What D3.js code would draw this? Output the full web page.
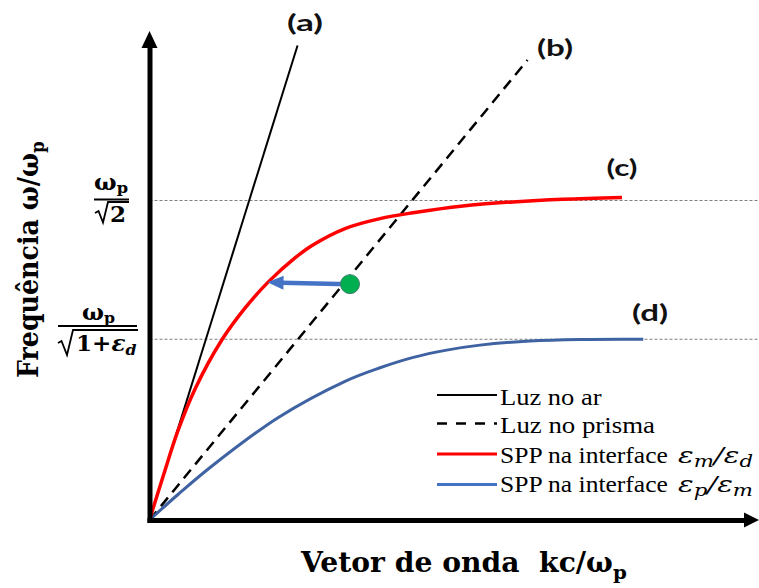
<!DOCTYPE html>
<html><head><meta charset="utf-8">
<script src="https://cdn.jsdelivr.net/npm/d3@7"></script>
<style>body{margin:0;background:#fff}svg{display:block}text{white-space:pre}</style>
</head><body><svg id="c" width="759" height="588"></svg>
<script>
// ---------- data (x = kc/ωp, y = ω/ωp) ----------
const xMax = 4.32, yMax = 1.08;
const asymptotes = [0.7071, 0.4];            // ωp/√2 , ωp/√(1+εd)
const lightAir   = [[0,0],[1.05,1.05]];       // (a)
const lightPrism = [[0,0],[2.681,1.018]];     // (b)
const sppMetalDielectric = [[0,0],[0.1,0.1],[0.2,0.196],[0.323,0.29],[0.516,0.4],[0.68,0.47],[0.843,0.527],[1.032,0.58],[1.15,0.607],[1.387,0.645],[1.635,0.667],[1.869,0.68],[2.223,0.695],[2.578,0.704],[2.933,0.71],[3.351,0.714]]; // (c)
const sppPrismMetal = [[0,0],[0.204,0.057],[0.441,0.119],[0.914,0.227],[1.387,0.307],[1.635,0.337],[1.871,0.36],[2.108,0.376],[2.344,0.387],[2.699,0.396],[3.053,0.3995],[3.502,0.4]]; // (d)
const couplingPoint = [1.422, 0.522];
const couplingTarget = [0.837, 0.526];
const curveLabels = ["(a)","(b)","(c)","(d)"];
const legendLabels = ["Luz no ar","Luz no prisma","SPP na interface","SPP na interface"];

// ---------- setup ----------
const svg = d3.select('#c');
const x = d3.scaleLinear().domain([0,xMax]).range([149.5,758.6]);
const y = d3.scaleLinear().domain([0,yMax]).range([520,32]);

function richText(parent, parts, base){
  const g = parent.append('g');
  const t = g.append('text').attr('font-family',base.family).attr('font-size',base.size)
    .attr('font-weight',base.weight||'normal').attr('fill',base.fill||'#000');
  if(base.style) t.attr('font-style',base.style);
  let cur = 0;
  parts.forEach(p=>{
    const ts = t.append('tspan').text(p.t);
    const sh = p.shift||0;
    ts.attr('dy', sh-cur); cur = sh;
    if(p.size) ts.attr('font-size',p.size);
    if(p.style) ts.attr('font-style',p.style);
    if(p.weight) ts.attr('font-weight',p.weight);
    if(p.family) ts.attr('font-family',p.family);
  });
  return g;
}
function fitH(g,x0,x1,yb){
  const bb = g.node().getBBox(); const s = (x1-x0)/bb.width;
  g.attr('transform',`translate(${x0-bb.x*s},${yb}) scale(${s},1)`);
}
function fitCenter(g,cx,w,yb){ fitH(g,cx-w/2,cx+w/2,yb); }
function fitV(g,xb,yStart,yEnd){
  const bb = g.node().getBBox(); const s = (yStart-yEnd)/bb.width;
  g.attr('transform',`translate(${xb},${yStart}) rotate(-90) scale(${s},1) translate(${-bb.x},0)`);
}

// ---------- asymptote guide lines ----------
svg.append('g').selectAll('line').data(asymptotes).join('line')
  .attr('x1',x(0)).attr('x2',759).attr('y1',d=>y(d)).attr('y2',d=>y(d))
  .attr('stroke','#7f7f7f').attr('stroke-width',1).attr('stroke-dasharray','3,2');

// ---------- curves ----------
const straight = d3.line().x(d=>x(d[0])).y(d=>y(d[1]));
const smooth = d3.line().x(d=>x(d[0])).y(d=>y(d[1])).curve(d3.curveCatmullRom.alpha(0.5));
svg.append('path').attr('d',straight(lightPrism)).attr('fill','none').attr('stroke','#000').attr('stroke-width',2.5).attr('stroke-dasharray','11,7');
svg.append('path').attr('d',smooth(sppPrismMetal)).attr('fill','none').attr('stroke','#3F62A3').attr('stroke-width',3);
svg.append('path').attr('d',straight(lightAir)).attr('fill','none').attr('stroke','#000').attr('stroke-width',2);
svg.append('path').attr('d',smooth(sppMetalDielectric)).attr('fill','none').attr('stroke','#FF0000').attr('stroke-width',3.5);

// ---------- coupling arrow + point ----------
{
  const x0=x(couplingPoint[0]), y0=y(couplingPoint[1]), x1=x(couplingTarget[0]), y1=y(couplingTarget[1]);
  const L=Math.hypot(x1-x0,y1-y0), ux=(x1-x0)/L, uy=(y1-y0)/L, hl=16, hw=7;
  const bx=x1-ux*hl, by=y1-uy*hl;
  svg.append('line').attr('x1',x0).attr('y1',y0).attr('x2',bx+ux*2).attr('y2',by+uy*2).attr('stroke','#4472C4').attr('stroke-width',4.5);
  svg.append('polygon').attr('points',`${x1},${y1} ${bx-uy*hw},${by+ux*hw} ${bx+uy*hw},${by-ux*hw}`).attr('fill','#4472C4');
  svg.append('circle').attr('cx',x0).attr('cy',y0).attr('r',9.5).attr('fill','#00B050').attr('stroke','#3E7F6A').attr('stroke-width',1);
}

// ---------- axes ----------
const xAxisG = svg.append('g').attr('transform',`translate(0,${y(0)})`)
  .call(d3.axisBottom(x.copy().range([147,750])).tickValues([]).tickSizeOuter(0));
xAxisG.select('.domain').attr('stroke','#000').attr('stroke-width',5);
const yAxisG = svg.append('g').attr('transform',`translate(${x(0)},0)`)
  .call(d3.axisLeft(y.copy().range([522.5,44])).tickValues([]).tickSizeOuter(0));
yAxisG.select('.domain').attr('stroke','#000').attr('stroke-width',5);
svg.append('polygon').attr('points',`${x(0)},31 ${x(0)-8},48 ${x(0)+8},48`).attr('fill','#000');
svg.append('polygon').attr('points',`759,${y(0)} 744,${y(0)-7.5} 744,${y(0)+7.5}`).attr('fill','#000');

// ---------- curve labels ----------
const lblPos = [[305,36,31],[555,36,56],[622,31,176],[650,36,321]];
curveLabels.forEach((t,i)=>{
  const g = richText(svg,[{t}],{family:'Lato',size:23,weight:'bold',fill:'#111'});
  fitCenter(g,lblPos[i][0],lblPos[i][1],lblPos[i][2]);
});

// ---------- axis titles ----------
const serifB = {family:'DejaVu Serif',size:27,weight:'bold'};
fitV(richText(svg,[{t:'Frequência ω/ω'},{t:'p',shift:6,size:18}],serifB),38,378,141);
fitH(richText(svg,[{t:'Vetor de onda  kc/ω'},{t:'p',shift:7,size:19}],serifB),300,627,572);

// ---------- y tick fractions ----------
const fracB = {family:'DejaVu Serif',size:22,weight:'bold'};
fitH(richText(svg,[{t:'ω'},{t:'p',shift:3,size:15}],fracB),94,128,189.5);
svg.append('line').attr('x1',94).attr('x2',129).attr('y1',y(asymptotes[0])-1).attr('y2',y(asymptotes[0])-1).attr('stroke','#000').attr('stroke-width',1.8);
svg.append('path').attr('d','M95,213 L98.5,211 L103,222.5 L108,202 L129,202').attr('fill','none').attr('stroke','#000').attr('stroke-width',1.8);
fitH(richText(svg,[{t:'2'}],fracB),110,126,222);

fitH(richText(svg,[{t:'ω'},{t:'p',shift:3,size:15}],fracB),82,115,320);
svg.append('line').attr('x1',58).attr('x2',137).attr('y1',326).attr('y2',326).attr('stroke','#000').attr('stroke-width',1.8);
svg.append('path').attr('d','M58,343 L61.5,341 L67,355 L73,330 L138,330').attr('fill','none').attr('stroke','#000').attr('stroke-width',1.8);
fitH(richText(svg,[{t:'1+'},{t:'ε',style:'italic'},{t:'d',style:'italic',shift:4,size:15}],fracB),76,137,351);

// ---------- legend ----------
const legStyles = [
  {stroke:'#000',w:2,dash:null},
  {stroke:'#000',w:2.5,dash:'10,9'},
  {stroke:'#FF0000',w:3,dash:null},
  {stroke:'#4472C4',w:3,dash:null}];
const legLineY = [395,423.5,454,484.5];
const legBase = [405,433,463,492];
const legTextEnd = [602,655,668,668];
const legMath = [null,null,[{t:'ε'},{t:'m',shift:4,size:16},{t:'/',shift:0},{t:'ε'},{t:'d',shift:4,size:16}],[{t:'ε'},{t:'p',shift:4,size:16},{t:'/',shift:0},{t:'ε'},{t:'m',shift:4,size:16}]];
legendLabels.forEach((lab,i)=>{
  const s = legStyles[i];
  const ln = svg.append('line').attr('x1',437).attr('x2',497).attr('y1',legLineY[i]).attr('y2',legLineY[i]).attr('stroke',s.stroke).attr('stroke-width',s.w);
  if(s.dash) ln.attr('stroke-dasharray',s.dash);
  fitH(richText(svg,[{t:lab}],{family:'Liberation Serif',size:23}),500,legTextEnd[i],legBase[i]);
  if(legMath[i]) fitH(richText(svg,legMath[i],{family:'DejaVu Serif',size:22,style:'italic'}),678,753,legBase[i]);
});
</script></body></html>
